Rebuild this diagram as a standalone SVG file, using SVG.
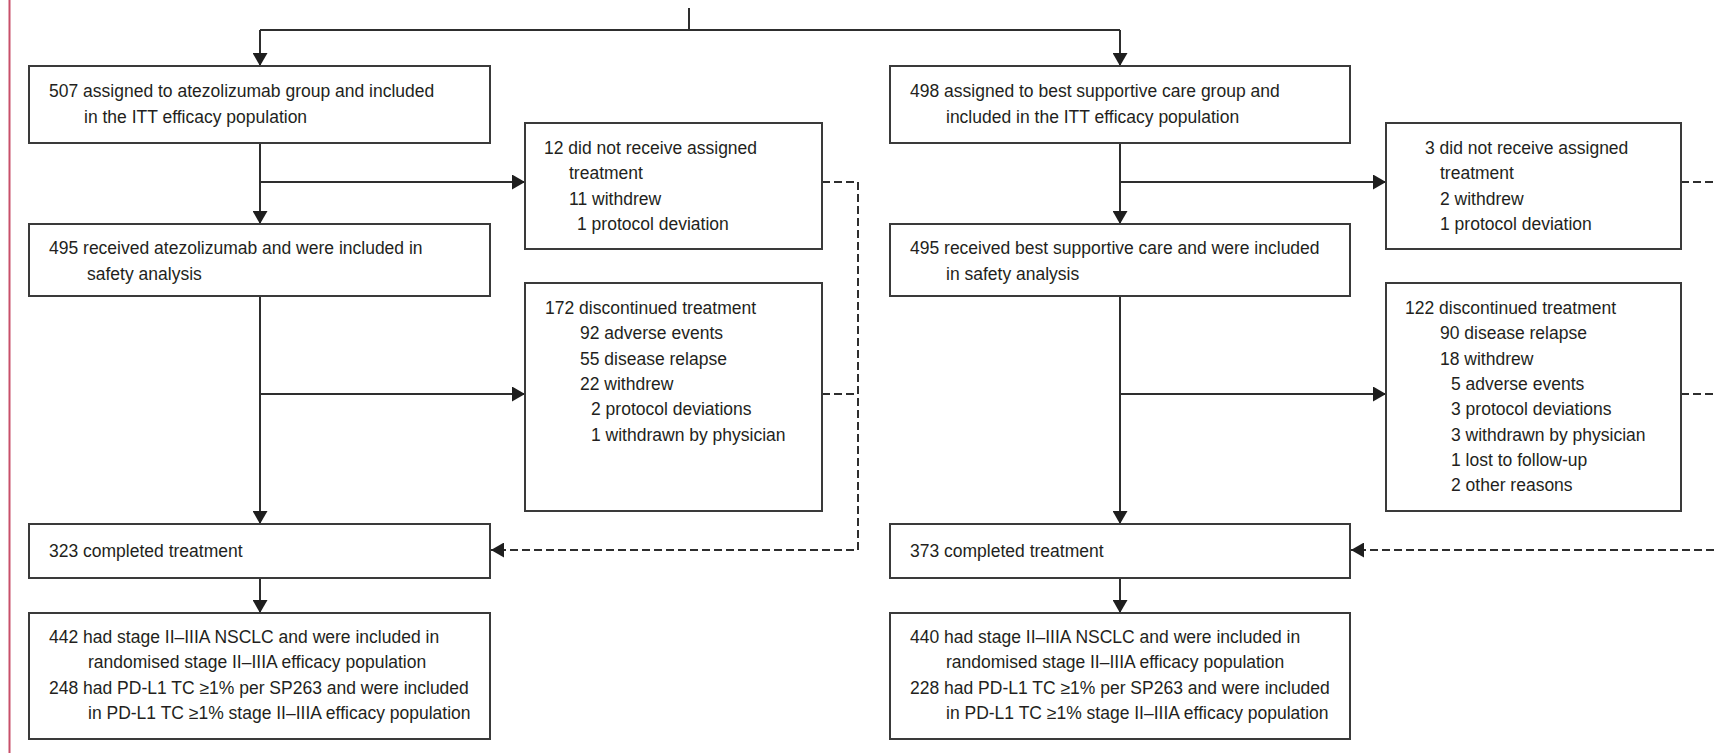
<svg xmlns="http://www.w3.org/2000/svg" width="1714" height="753" viewBox="0 0 1714 753">
<style>
.box{fill:#fff;stroke:#3a3a3a;stroke-width:2}
.ln{fill:none;stroke:#2e2e2e;stroke-width:2}
.dash{fill:none;stroke:#2e2e2e;stroke-width:2;stroke-dasharray:8 4}
text{font-family:"Liberation Sans",Arial,sans-serif;font-size:17.5px;fill:#231f20}
</style>
<defs>
<marker id="ah" markerUnits="userSpaceOnUse" markerWidth="14" markerHeight="15" viewBox="0 0 14 15" refX="13" refY="7.5" orient="auto">
<path d="M0,0 L13,7.5 L0,15 z" fill="#1e1e1e"/>
</marker>
</defs>
<rect x="0" y="0" width="1714" height="753" fill="#fff"/>
<line x1="9.5" y1="0" x2="9.5" y2="753" stroke="#c8506a" stroke-width="2"/>

<g id="connectors">
<path class="ln" d="M689,8 V30"/>
<path class="ln" d="M260,30 H1120"/>
<path class="ln" d="M260,30 V66" marker-end="url(#ah)"/>
<path class="ln" d="M1120,30 V66" marker-end="url(#ah)"/>
<path class="ln" d="M260,143 V224" marker-end="url(#ah)"/>
<path class="ln" d="M260,182 H525" marker-end="url(#ah)"/>
<path class="ln" d="M260,296 V524" marker-end="url(#ah)"/>
<path class="ln" d="M260,394 H525" marker-end="url(#ah)"/>
<path class="ln" d="M260,578 V613" marker-end="url(#ah)"/>
<path class="dash" d="M822,182 H858 V550 H491" marker-end="url(#ah)"/>
<path class="dash" d="M822,394 H858"/>
<path class="ln" d="M1120,143 V224" marker-end="url(#ah)"/>
<path class="ln" d="M1120,182 H1386" marker-end="url(#ah)"/>
<path class="ln" d="M1120,296 V524" marker-end="url(#ah)"/>
<path class="ln" d="M1120,394 H1386" marker-end="url(#ah)"/>
<path class="ln" d="M1120,578 V613" marker-end="url(#ah)"/>
<path class="dash" d="M1681,182 H1714"/>
<path class="dash" d="M1681,394 H1714"/>
<path class="dash" d="M1714,550 H1351" marker-end="url(#ah)"/>
</g>

<g id="atezo-assigned">
<rect class="box" x="29" y="66" width="461" height="77"/>
<text x="49" y="97">507 assigned to atezolizumab group and included</text>
<text x="84" y="123">in the ITT efficacy population</text>
</g>
<g id="atezo-received">
<rect class="box" x="29" y="224" width="461" height="72"/>
<text x="49" y="254">495 received atezolizumab and were included in</text>
<text x="87" y="280">safety analysis</text>
</g>
<g id="atezo-not-received">
<rect class="box" x="525" y="123" width="297" height="126"/>
<text x="544" y="154">12 did not receive assigned</text>
<text x="569" y="179">treatment</text>
<text x="569" y="205">11 withdrew</text>
<text x="577" y="230">1 protocol deviation</text>
</g>
<g id="atezo-discontinued">
<rect class="box" x="525" y="283" width="297" height="228"/>
<text x="545" y="314">172 discontinued treatment</text>
<text x="580" y="339">92 adverse events</text>
<text x="580" y="365">55 disease relapse</text>
<text x="580" y="390">22 withdrew</text>
<text x="591" y="415">2 protocol deviations</text>
<text x="591" y="441">1 withdrawn by physician</text>
</g>
<g id="atezo-completed">
<rect class="box" x="29" y="524" width="461" height="54"/>
<text x="49" y="557">323 completed treatment</text>
</g>
<g id="atezo-stage">
<rect class="box" x="29" y="613" width="461" height="126"/>
<text x="49" y="643">442 had stage II–IIIA NSCLC and were included in</text>
<text x="88" y="668">randomised stage II–IIIA efficacy population</text>
<text x="49" y="694">248 had PD-L1 TC ≥1% per SP263 and were included</text>
<text x="88" y="719">in PD-L1 TC ≥1% stage II–IIIA efficacy population</text>
</g>

<g id="bsc-assigned">
<rect class="box" x="890" y="66" width="460" height="77"/>
<text x="910" y="97">498 assigned to best supportive care group and</text>
<text x="946" y="123">included in the ITT efficacy population</text>
</g>
<g id="bsc-received">
<rect class="box" x="890" y="224" width="460" height="72"/>
<text x="910" y="254">495 received best supportive care and were included</text>
<text x="946" y="280">in safety analysis</text>
</g>
<g id="bsc-not-received">
<rect class="box" x="1386" y="123" width="295" height="126"/>
<text x="1425" y="154">3 did not receive assigned</text>
<text x="1440" y="179">treatment</text>
<text x="1440" y="205">2 withdrew</text>
<text x="1440" y="230">1 protocol deviation</text>
</g>
<g id="bsc-discontinued">
<rect class="box" x="1386" y="283" width="295" height="228"/>
<text x="1405" y="314">122 discontinued treatment</text>
<text x="1440" y="339">90 disease relapse</text>
<text x="1440" y="365">18 withdrew</text>
<text x="1451" y="390">5 adverse events</text>
<text x="1451" y="415">3 protocol deviations</text>
<text x="1451" y="441">3 withdrawn by physician</text>
<text x="1451" y="466">1 lost to follow-up</text>
<text x="1451" y="491">2 other reasons</text>
</g>
<g id="bsc-completed">
<rect class="box" x="890" y="524" width="460" height="54"/>
<text x="910" y="557">373 completed treatment</text>
</g>
<g id="bsc-stage">
<rect class="box" x="890" y="613" width="460" height="126"/>
<text x="910" y="643">440 had stage II–IIIA NSCLC and were included in</text>
<text x="946" y="668">randomised stage II–IIIA efficacy population</text>
<text x="910" y="694">228 had PD-L1 TC ≥1% per SP263 and were included</text>
<text x="946" y="719">in PD-L1 TC ≥1% stage II–IIIA efficacy population</text>
</g>
</svg>
